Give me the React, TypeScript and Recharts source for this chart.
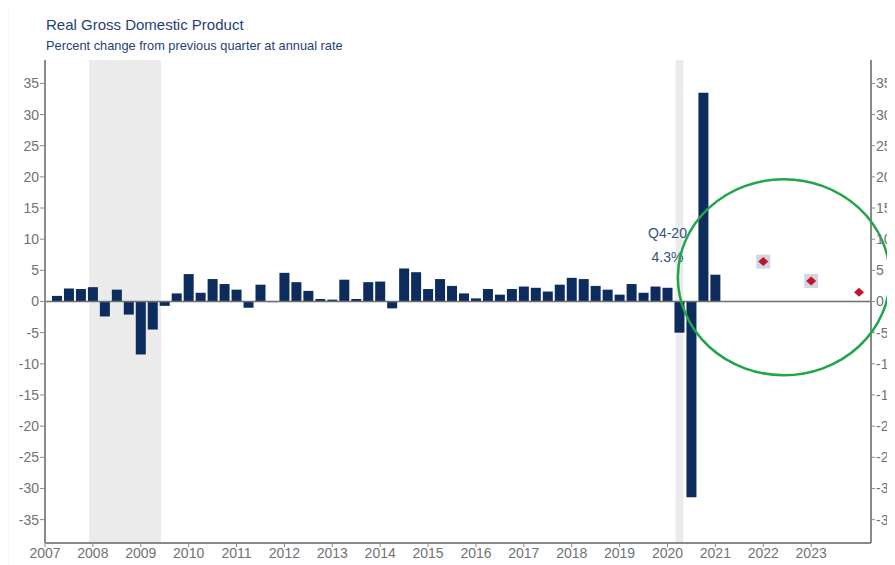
import React from 'react';
import {
  ComposedChart,
  Bar,
  Scatter,
  XAxis,
  YAxis,
  ReferenceLine,
  ReferenceArea,
  ReferenceDot,
} from 'recharts';

// quarterly real GDP growth, % change at annual rate (bar sits at quarter end)
const QUARTERS = [
  '2007Q1', '2007Q2', '2007Q3', '2007Q4', '2008Q1', '2008Q2', '2008Q3', '2008Q4',
  '2009Q1', '2009Q2', '2009Q3', '2009Q4', '2010Q1', '2010Q2', '2010Q3', '2010Q4',
  '2011Q1', '2011Q2', '2011Q3', '2011Q4', '2012Q1', '2012Q2', '2012Q3', '2012Q4',
  '2013Q1', '2013Q2', '2013Q3', '2013Q4', '2014Q1', '2014Q2', '2014Q3', '2014Q4',
  '2015Q1', '2015Q2', '2015Q3', '2015Q4', '2016Q1', '2016Q2', '2016Q3', '2016Q4',
  '2017Q1', '2017Q2', '2017Q3', '2017Q4', '2018Q1', '2018Q2', '2018Q3', '2018Q4',
  '2019Q1', '2019Q2', '2019Q3', '2019Q4', '2020Q1', '2020Q2', '2020Q3', '2020Q4',
];

const GDP_GROWTH = [
  0.9, 2.1, 2.0, 2.3, -2.4, 1.9, -2.1, -8.5,
  -4.5, -0.7, 1.3, 4.4, 1.4, 3.6, 2.8, 1.9,
  -1.0, 2.7, -0.1, 4.6, 3.1, 1.7, 0.4, 0.3,
  3.5, 0.4, 3.1, 3.2, -1.1, 5.3, 4.7, 2.0,
  3.6, 2.5, 1.3, 0.5, 2.0, 1.1, 2.0, 2.4,
  2.2, 1.6, 2.7, 3.8, 3.6, 2.5, 1.9, 1.1,
  2.8, 1.4, 2.4, 2.2, -5.0, -31.4, 33.5, 4.3,
];

// annual forecasts, drawn at the end of each year
const FORECAST_YEARS = [2021, 2022, 2023];
const FORECAST_VALUES = [6.4, 3.3, 1.5];
const FORECAST_HAS_RANGE = [true, true, false];

const RECESSION_STARTS = [2007.92, 2020.17];
const RECESSION_ENDS = [2009.42, 2020.33];

const YEAR_TICKS = [
  2007, 2008, 2009, 2010, 2011, 2012, 2013, 2014, 2015,
  2016, 2017, 2018, 2019, 2020, 2021, 2022, 2023,
];
const Y_TICKS = [-35, -30, -25, -20, -15, -10, -5, 0, 5, 10, 15, 20, 25, 30, 35];

const NAVY = '#0b2c5c';
const AXIS_GRAY = '#8a8a8a';
const TICK_STYLE = { fill: '#727272', fontSize: 14, fontFamily: 'Liberation Sans, Arial, sans-serif' };

const quarterData = QUARTERS.map((q, i) => ({
  x: Number(q.slice(0, 4)) + Number(q.slice(5)) / 4,
  gdp: GDP_GROWTH[i],
}));

const forecastData = FORECAST_YEARS.map((y, i) => ({
  x: y + 1,
  value: FORECAST_VALUES[i],
  range: FORECAST_HAS_RANGE[i],
}));

function ForecastMarker(props: any) {
  const { cx, cy, payload } = props;
  return (
    <g>
      {payload.range && (
        <rect x={cx - 7} y={cy - 7} width={14} height={14} fill="#cdd8e3" />
      )}
      <path
        d={`M${cx - 5},${cy} L${cx},${cy - 4.5} L${cx + 5},${cy} L${cx},${cy + 4.5} Z`}
        fill="#c8102e"
      />
    </g>
  );
}

export default function App() {
  return (
    <div
      style={{
        position: 'relative',
        width: 895,
        height: 565,
        margin: '-8px 0 0 -8px',
        background: '#f6f6f6',
        overflow: 'hidden',
        fontFamily: 'Liberation Sans, Arial, sans-serif',
      }}
    >
      <div style={{ position: 'absolute', left: 9, top: 8, right: 0, bottom: 0, background: '#fff' }} />
      <div style={{ position: 'absolute', left: 46, top: 16, fontSize: 15, color: '#1f3f76' }}>
        Real Gross Domestic Product
      </div>
      <div style={{ position: 'absolute', left: 46, top: 38, fontSize: 12.8, color: '#1f3f76' }}>
        Percent change from previous quarter at annual rate
      </div>
      <div style={{ position: 'absolute', left: 0, top: 0 }}>
        <ComposedChart
          width={895}
          height={565}
          data={quarterData}
          margin={{ top: 60, right: 0, bottom: 0, left: 0 }}
        >
          {RECESSION_STARTS.map((s, i) => (
            <ReferenceArea
              key={i}
              yAxisId="left"
              x1={s}
              x2={RECESSION_ENDS[i]}
              fill="#ebebeb"
              fillOpacity={1}
              stroke="none"
            />
          ))}
          <XAxis
            type="number"
            dataKey="x"
            domain={[2007, 2024.25]}
            ticks={YEAR_TICKS}
            allowDataOverflow
            height={22}
            tick={TICK_STYLE}
            tickSize={4}
            tickMargin={1}
            tickLine={{ stroke: AXIS_GRAY }}
            axisLine={{ stroke: AXIS_GRAY, strokeWidth: 2 }}
          />
          <YAxis
            yAxisId="left"
            domain={[-38.75, 38.75]}
            ticks={Y_TICKS}
            allowDataOverflow
            width={45}
            tick={TICK_STYLE}
            tickSize={5}
            tickMargin={1}
            tickLine={{ stroke: AXIS_GRAY }}
            axisLine={{ stroke: AXIS_GRAY, strokeWidth: 2 }}
          />
          <YAxis
            yAxisId="right"
            orientation="right"
            domain={[-38.75, 38.75]}
            ticks={Y_TICKS}
            allowDataOverflow
            width={24}
            tick={{ ...TICK_STYLE, textAnchor: 'start' }}
            tickSize={4}
            tickMargin={1}
            tickLine={{ stroke: AXIS_GRAY }}
            axisLine={{ stroke: AXIS_GRAY, strokeWidth: 2 }}
          />
          <Bar yAxisId="left" dataKey="gdp" fill={NAVY} barSize={10} isAnimationActive={false} />
          <ReferenceLine yAxisId="left" y={0} stroke="#6f6f6f" strokeWidth={1.5} />
          <Scatter
            yAxisId="left"
            data={forecastData}
            dataKey="value"
            shape={<ForecastMarker />}
            isAnimationActive={false}
          />
          <ReferenceDot
            yAxisId="left"
            x={2020}
            y={11}
            ifOverflow="visible"
            shape={(p: any) => (
              <g fill="#34527f" fontSize={14} fontFamily="Liberation Sans, Arial, sans-serif">
                <text x={p.cx} y={p.cy} textAnchor="middle" dominantBaseline="central">Q4-20</text>
                <text x={p.cx} y={p.cy + 24} textAnchor="middle" dominantBaseline="central">4.3%</text>
              </g>
            )}
          />
          <ReferenceDot
            yAxisId="left"
            x={2022.43}
            y={3.9}
            ifOverflow="visible"
            shape={(p: any) => (
              <ellipse cx={p.cx} cy={p.cy} rx={106} ry={98} fill="none" stroke="#1fa64a" strokeWidth={2.5} />
            )}
          />
        </ComposedChart>
      </div>
    </div>
  );
}
